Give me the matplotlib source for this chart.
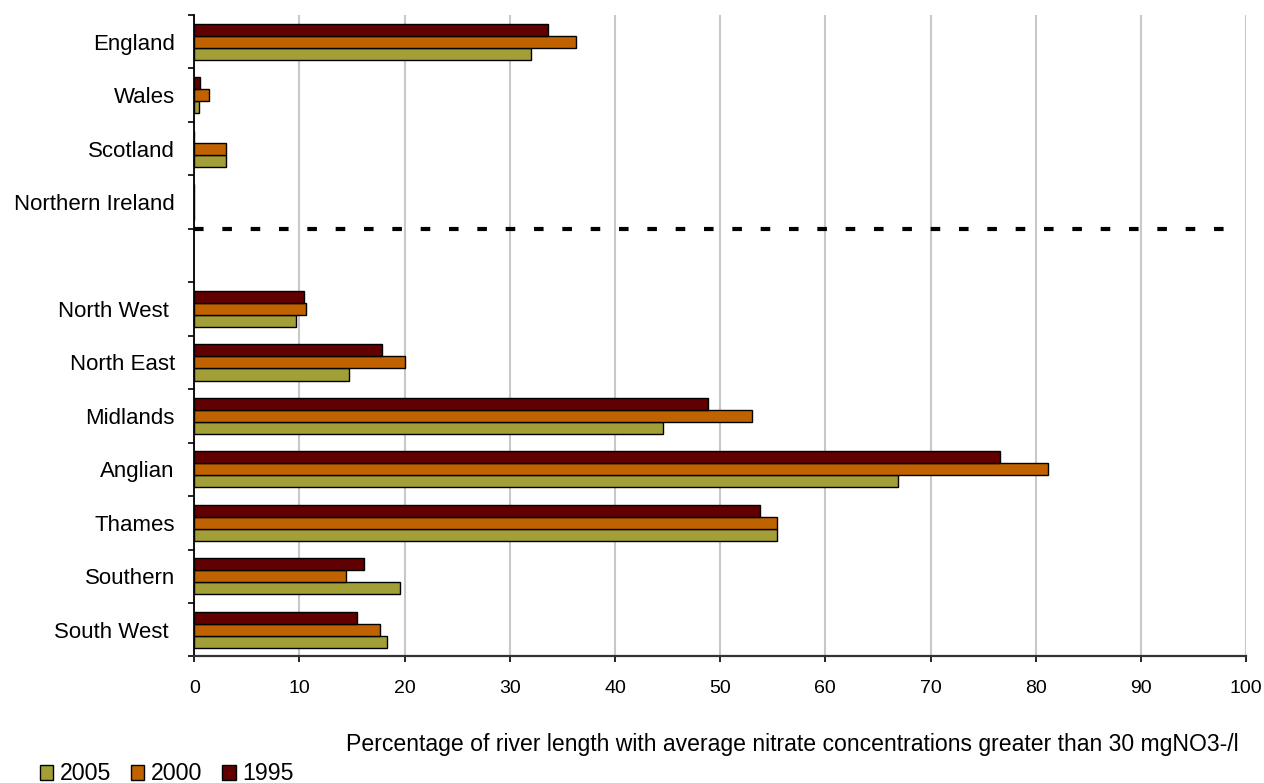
import numpy as np
import matplotlib.pyplot as plt
from matplotlib.patches import Patch

plt.rcParams["font.family"] = ["Liberation Sans", "DejaVu Sans"]

# Data
regions = ["England", "Wales", "Scotland", "Northern Ireland", "",
           "North West ", "North East", "Midlands", "Anglian", "Thames",
           "Southern", "South West "]
pct_2005 = [32.0, 0.45, 3.0, 0.0, np.nan, 9.7, 14.7, 44.6, 66.9, 55.4, 19.6, 18.3]
pct_2000 = [36.3, 1.43, 3.0, 0.0, np.nan, 10.6, 20.0, 53.0, 81.2, 55.4, 14.4, 17.7]
pct_1995 = [33.6, 0.57, 0.0, 0.0, np.nan, 10.45, 17.85, 48.8, 76.65, 53.8, 16.1, 15.5]
years = ["2005", "2000", "1995"]
colors = ["#A29E38", "#C06200", "#600000"]
xlabel = "Percentage of river length with average nitrate concentrations greater than 30 mgNO3-/l"

# Layout
fig = plt.figure(figsize=(12.64, 7.83), dpi=100)
ax = fig.add_axes([0.1537, 0.1616, 0.8321, 0.8192])

y = np.arange(len(regions))
h = 0.225
series = [pct_2005, pct_2000, pct_1995]
offsets = [h, 0, -h]
for vals, off, c in zip(series, offsets, colors):
    ax.barh(y + off, vals, height=h, color=c, edgecolor="black", linewidth=1.0, zorder=3)

# separator between nations and English regions
ax.plot([0, 98.4], [3.5, 3.5], color="black", lw=3, dashes=(2.3, 4.5),
        solid_capstyle="butt", dash_capstyle="butt", zorder=4)

ax.set_xlim(0, 100)
ax.set_ylim(len(regions) - 0.5, -0.5)
ax.set_xticks(np.arange(0, 101, 10))
ax.set_yticks(y)
ax.set_yticklabels(regions)
ax.set_yticks(np.arange(len(regions) + 1) - 0.5, minor=True)

ax.tick_params(axis="y", which="major", length=0, pad=14, labelsize=16)
ax.tick_params(axis="y", which="minor", length=4.5, width=1.2, color="black")
ax.tick_params(axis="x", length=4.5, width=1.2, pad=12.5, labelsize=14)

ax.grid(axis="x", color="#C8C8C8", lw=1.5)
ax.set_axisbelow(True)
for s in ["top", "right"]:
    ax.spines[s].set_visible(False)
ax.spines["left"].set_linewidth(1.3)
ax.spines["bottom"].set_linewidth(1.6)
ax.spines["bottom"].set_color("#333333")

fig.text(1239 / 1264, 1 - 745 / 783, xlabel, ha="right", va="center", fontsize=16.6)

handles = [Patch(facecolor=c, edgecolor="black", linewidth=1.0) for c in colors]
fig.legend(handles, years, loc="center left", bbox_to_anchor=(40 / 1264, 1 - 774 / 783),
           ncol=3, frameon=False, fontsize=16.7, handlelength=0.58, handleheight=0.58,
           handletextpad=0.28, columnspacing=0.85, borderaxespad=0, borderpad=0)

fig.savefig("out.png", dpi=100)
